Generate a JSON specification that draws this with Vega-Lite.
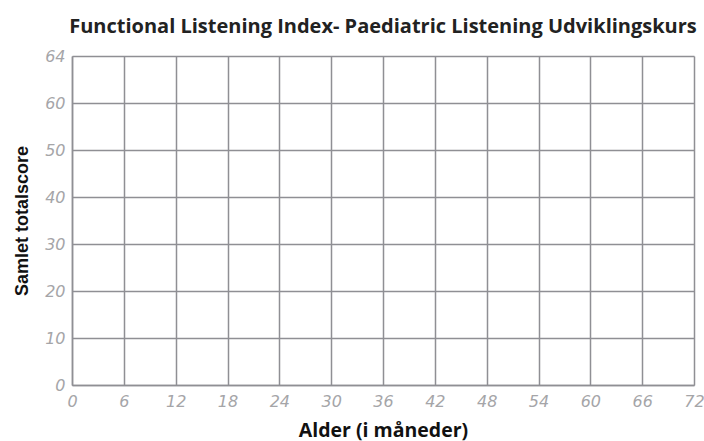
{
  "$schema": "https://vega.github.io/schema/vega-lite/v6.json",
  "autosize": {"type": "none"},
  "width": 622,
  "height": 329,
  "padding": {"left": 72, "top": 56, "right": 10, "bottom": 56},
  "background": "white",
  "title": {
    "text": "Functional Listening Index- Paediatric Listening Udviklingskurs",
    "font": "Open Sans",
    "fontSize": 20,
    "fontWeight": "bold",
    "color": "#222222",
    "anchor": "middle",
    "offset": 11
  },
  "data": {"values": [{"alder": 0, "score": 0}]},
  "mark": {"type": "point", "opacity": 0},
  "encoding": {
    "x": {
      "field": "alder",
      "type": "quantitative",
      "scale": {"domain": [0, 72], "nice": false, "zero": false},
      "axis": {
        "title": "Alder (i måneder)",
        "titleFont": "Open Sans",
        "titleFontSize": 19.5,
        "titleFontWeight": "bold",
        "titleColor": "#111111",
        "titlePadding": 12,
        "values": [0, 6, 12, 18, 24, 30, 36, 42, 48, 54, 60, 66, 72],
        "labelFont": "DejaVu Sans",
        "labelFontStyle": "italic",
        "labelFontWeight": 200,
        "labelFontSize": 16,
        "labelColor": "#a5a5a8",
        "labelPadding": 8,
        "ticks": false,
        "grid": true,
        "gridColor": "#8f8f94",
        "gridWidth": 1.5,
        "gridOpacity": 1,
        "domainColor": "#8f8f94",
        "domainWidth": 1.5,
        "labelFlush": false
      }
    },
    "y": {
      "field": "score",
      "type": "quantitative",
      "scale": {"domain": [0, 70], "nice": false},
      "axis": {
        "title": "Samlet totalscore",
        "titleFont": "Liberation Sans",
        "titleFontSize": 18,
        "titleFontWeight": "bold",
        "titleColor": "#111111",
        "titlePadding": 13,
        "values": [0, 10, 20, 30, 40, 50, 60, 70],
        "labelExpr": "datum.value == 70 ? '64' : datum.label",
        "labelFont": "DejaVu Sans",
        "labelFontStyle": "italic",
        "labelFontWeight": 200,
        "labelFontSize": 16,
        "labelColor": "#a5a5a8",
        "labelPadding": 7,
        "ticks": false,
        "grid": true,
        "gridColor": "#8f8f94",
        "gridWidth": 1.5,
        "gridOpacity": 1,
        "domainColor": "#8f8f94",
        "domainWidth": 1.5,
        "labelFlush": false
      }
    }
  },
  "config": {"view": {"stroke": null}}
}
